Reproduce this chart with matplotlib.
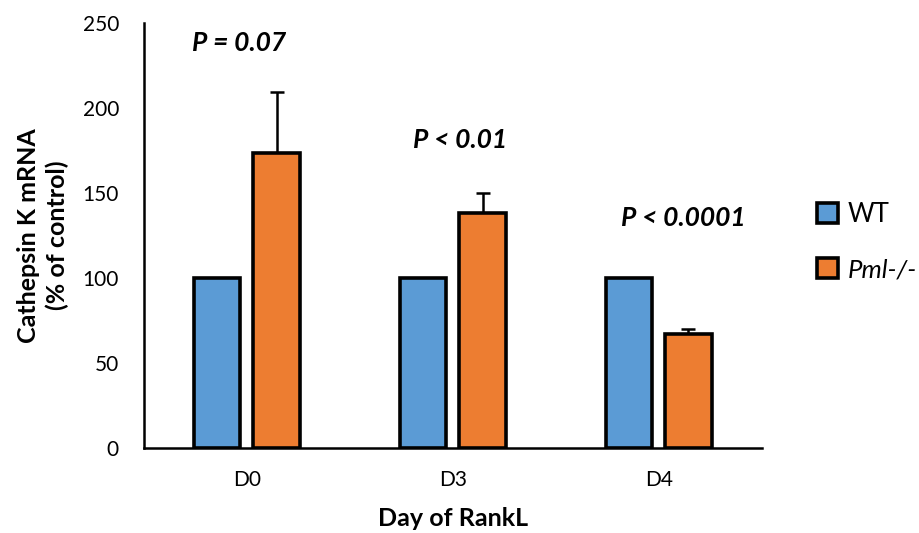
import matplotlib
matplotlib.use("Agg")
import matplotlib.pyplot as plt
import numpy as np

days = ["D0", "D3", "D4"]
wt = [100, 100, 100]
pml = [173.5, 138, 67]
pml_err = [36, 12, 3]
p_labels = ["P = 0.07", "P < 0.01", "P < 0.0001"]
p_label_x = [-0.04, 1.034, 2.12]
p_label_y = [238, 181, 135]

blue = "#5B9BD5"
orange = "#ED7D31"

plt.rcParams['font.family'] = ['Lato', 'DejaVu Sans']

fig = plt.figure(figsize=(9.2, 5.33), dpi=100)
ax = fig.add_axes([0.1565, 0.1595, 0.6715, 0.7975])

x = np.arange(len(days))
w = 0.225
off = 0.144
ax.bar(x - off, wt, w, color=blue, edgecolor="black", linewidth=2.6, label="WT", zorder=3)
ax.bar(x + off, pml, w, color=orange, edgecolor="black", linewidth=2.6, label="Pml-/-", zorder=3)
ax.errorbar(x + off, pml, yerr=[np.zeros(len(pml)), pml_err], fmt="none",
            ecolor="black", elinewidth=1.8, capsize=5, capthick=1.8, zorder=2)

for xi, yy, lab in zip(p_label_x, p_label_y, p_labels):
    ax.text(xi, yy, lab, ha="center", va="center", fontsize=19,
            fontweight="bold", style="italic")

ax.set_xlim(-0.5, 2.5)
ax.set_ylim(0, 250)
ax.set_yticks([0, 50, 100, 150, 200, 250])
ax.set_xticks(x)
ax.set_xticklabels(days)
ax.tick_params(axis="both", length=0, labelsize=15)
ax.tick_params(axis="x", pad=16)
ax.tick_params(axis="y", pad=18)
for s in ["top", "right"]:
    ax.spines[s].set_visible(False)
for s in ["left", "bottom"]:
    ax.spines[s].set_linewidth(1.8)

ax.set_xlabel("Day of RankL", fontsize=18, fontweight="bold", va="center")
ax.xaxis.set_label_coords(0.5, -0.167)
ax.set_ylabel("Cathepsin K mRNA\n(% of control)", fontsize=18, fontweight="bold",
              labelpad=10, linespacing=1.25)

leg = ax.legend(loc="upper left", bbox_to_anchor=(0.863, 0.664), bbox_transform=fig.transFigure,
                frameon=False, fontsize=18.5, handlelength=0.8, handleheight=0.8,
                handletextpad=0.4, labelspacing=1.2)
for t in leg.get_texts():
    if t.get_text() == "Pml-/-":
        t.set_style("italic")

fig.savefig("out.png", dpi=100)
